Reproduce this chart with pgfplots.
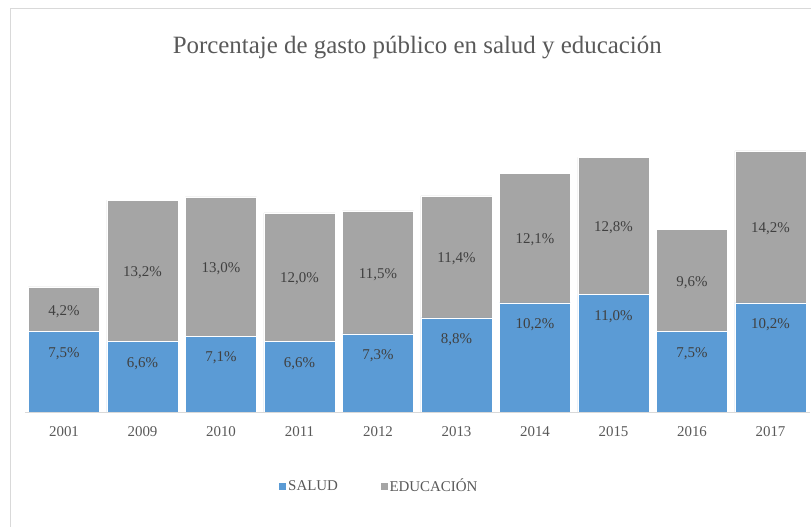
\documentclass[border=0pt]{standalone}
\usepackage{fontspec}
\setmainfont{Liberation Serif}
\usepackage{pgfplots}
\pgfplotsset{compat=1.18}
\usepackage{pgfplotstable}

\definecolor{salud}{HTML}{5B9BD5}
\definecolor{educ}{HTML}{A5A5A5}
\definecolor{txt}{HTML}{595959}
\definecolor{lbl}{HTML}{404040}
\definecolor{marco}{HTML}{D9D9D9}

% porcentaje del gasto publico
\pgfplotstableread{
x salud edu
0 7.5 4.2
1 6.6 13.2
2 7.1 13.0
3 6.6 12.0
4 7.3 11.5
5 8.8 11.4
6 10.2 12.1
7 11.0 12.8
8 7.5 9.6
9 10.2 14.2
}\gasto

\newcommand\pct{\pgfmathprintnumber[fixed,fixed zerofill,precision=1,use comma,assume math mode=true]{\pgfplotspointmeta}\%}
\newcommand\lblfont{\fontsize{15}{17}\selectfont}

\pgfplotsset{
    base/.style={
        at={(24.75bp,115bp)}, anchor=south west,
        scale only axis, width=785bp, height=321bp,
        xmin=-0.5, xmax=9.5, ymin=0, ymax=30,
    },
    etiquetas/.style={
        hide axis,
        point meta=explicit symbolic,
        nodes near coords={\pct},
        every node near coord/.append style={font=\lblfont, text=lbl, anchor=center},
    },
}

\begin{document}
\begin{tikzpicture}
\useasboundingbox (0,0) rectangle (811bp,527bp);
\draw[marco, line width=1bp] (10.5bp,-10bp) -- (10.5bp,518.5bp) -- (830bp,518.5bp);
\begin{axis}[
    base,
    ybar stacked, bar width=0.91,
    axis x line*=bottom, axis y line=none,
    x axis line style={marco, line width=1bp, -},
    xtick=data,
    xticklabels={2001,2009,2010,2011,2012,2013,2014,2015,2016,2017},
    major tick length=0pt,
    xticklabel style={font=\lblfont, text=txt, yshift=-11bp},
    title={Porcentaje de gasto público en salud y educación},
    title style={at={(0.5,1)}, anchor=center, yshift=37bp,
        font=\fontsize{25}{30}\selectfont, text=txt},
    legend style={at={(0.3226,-0.2305)}, anchor=west, draw=none, fill=none,
        inner sep=0pt, font=\lblfont, text=txt, legend columns=2,
        /tikz/every even column/.append style={column sep=40bp},
        nodes={inner xsep=1.5bp}},
    legend image code/.code={\fill[#1] (0bp,-4bp) rectangle (8bp,4bp);},
]
\addplot[fill=salud, draw=white, line width=0.5bp] table[x=x, y=salud] {\gasto};
\addlegendentry{SALUD}
\addplot[fill=educ, draw=white, line width=0.5bp] table[x=x, y=edu] {\gasto};
\addlegendentry{EDUCACIÓN}
\end{axis}
% etiquetas de salud: bajo el borde superior
\begin{axis}[base, etiquetas,
    every node near coord/.append style={yshift=-22bp}]
\addplot[draw=none, mark=none] table[x=x, y=salud, meta=salud] {\gasto};
\end{axis}
% etiquetas de educacion: al centro del segmento
\begin{axis}[base, etiquetas,
    every node near coord/.append style={yshift={(-5.35*\pgfplotspointmeta-2)*1bp}}]
\addplot[draw=none, mark=none]
    table[x=x, y expr=\thisrow{salud}+\thisrow{edu}, meta=edu] {\gasto};
\end{axis}
\end{tikzpicture}
\end{document}
